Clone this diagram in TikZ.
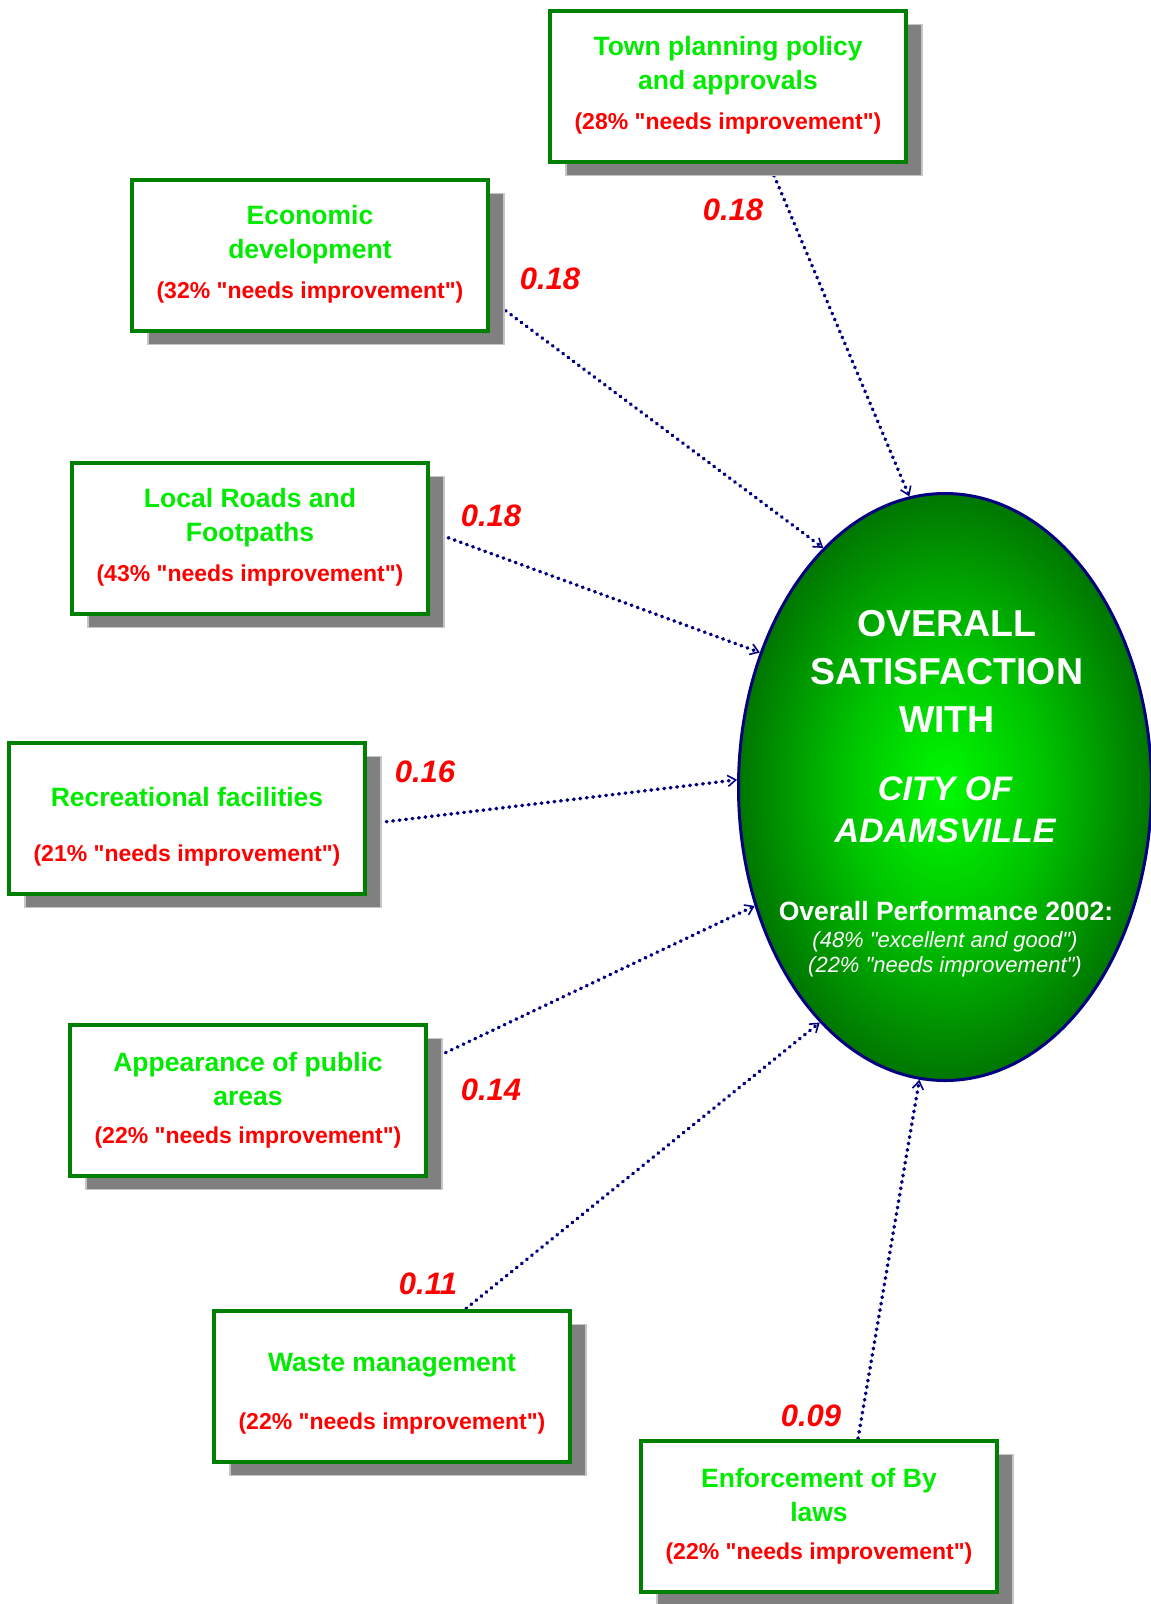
\documentclass[tikz,border=0pt]{standalone}
\usepackage{fontspec}
\setmainfont{Liberation Sans}[Ligatures=TeXOff]
\usetikzlibrary{shapes.geometric, arrows.meta, shadows, backgrounds}

\definecolor{boxgreen}{RGB}{0,128,0}
\definecolor{textgreen}{RGB}{0,235,0}
\definecolor{navy}{RGB}{0,0,128}
\definecolor{shadowgray}{RGB}{128,128,128}
\definecolor{glowlight}{RGB}{0,250,0}
\definecolor{glowmid}{RGB}{0,195,0}
\definecolor{glowdark}{RGB}{0,118,0}

\pgfdeclareradialshading{glow}{\pgfpoint{0bp}{0bp}}{color(0bp)=(glowlight); color(12bp)=(glowmid); color(25bp)=(glowdark); color(50bp)=(glowdark)}

% green title on top, red share underneath
\newcommand{\factor}[2]{%
  \parbox[c][151pt][t]{356pt}{\centering
    \vspace*{14pt}%
    \parbox[c][82pt][c]{350pt}{\centering\color{textgreen}\fontsize{26.5}{34}\selectfont\bfseries #1}\par
    \vspace*{5pt}%
    {\color{red}\fontsize{23}{28}\selectfont\bfseries #2}}}

\tikzset{
  factorbox/.style={draw=boxgreen, line width=4pt, fill=white, inner sep=0pt,
    minimum width=356pt, minimum height=151pt,
    general shadow={fill=shadowgray, draw=gray!45, line width=1.5pt,
      shadow xshift=16pt, shadow yshift=-14pt}},
  weight/.style={text=red, inner sep=0pt, font=\fontsize{31}{36}\selectfont\bfseries\itshape},
  link/.style={draw=navy, line width=3.6pt, line cap=round, dash pattern=on 0.6pt off 5.9pt,
    -{Straight Barb[length=8pt, width=11pt, line width=1.6pt]}},
}

\begin{document}
\begin{tikzpicture}[x=1pt, y=-1pt]
  \useasboundingbox (0,0) rectangle (1151,1604);

  % centre ellipse
  \node[ellipse, draw=navy, line width=3pt, shading=glow, inner sep=0pt,
        minimum width=413pt, minimum height=587pt] (sat) at (945,787) {};
  \node[text=white, align=center, inner sep=0pt, font=\fontsize{37.5}{48}\selectfont\bfseries]
    (sat-title) at (947,671) {OVERALL\\SATISFACTION\\WITH};
  \node[text=white, align=center, inner sep=0pt, font=\fontsize{34}{42}\selectfont\bfseries\itshape]
    (sat-city) at (945,810) {CITY OF\\ADAMSVILLE};
  \node[text=white, inner sep=0pt, font=\fontsize{26.5}{30}\selectfont\bfseries]
    (sat-perf) at (946,911) {Overall Performance 2002:};
  \node[text=white, align=center, inner sep=0pt, font=\fontsize{22}{25}\selectfont\itshape]
    (sat-note) at (945,954) {(48\% "excellent and good")\\(22\% "needs improvement")};

  % service areas
  \node[factorbox] (town) at (728,86) {\factor{Town planning policy\\and approvals}{(28\% "needs improvement")}};
  \node[factorbox] (econ) at (310,255) {\factor{Economic\\development}{(32\% "needs improvement")}};
  \node[factorbox] (roads) at (250,538) {\factor{Local Roads and\\Footpaths}{(43\% "needs improvement")}};
  \node[factorbox] (rec) at (187,818) {\factor{Recreational facilities}{(21\% "needs improvement")}};
  \node[factorbox] (appear) at (248,1100) {\factor{Appearance of public\\areas}{(22\% "needs improvement")}};
  \node[factorbox] (waste) at (392,1386) {\factor{Waste management}{(22\% "needs improvement")}};
  \node[factorbox] (bylaws) at (819,1516) {\factor{Enforcement of By\\laws}{(22\% "needs improvement")}};

  % weights
  \node[weight] (w-town) at (733,210) {0.18};
  \node[weight] (w-econ) at (550,279) {0.18};
  \node[weight] (w-roads) at (491,516) {0.18};
  \node[weight] (w-rec) at (425,772) {0.16};
  \node[weight] (w-appear) at (491,1090) {0.14};
  \node[weight] (w-waste) at (428,1284) {0.11};
  \node[weight] (w-bylaws) at (811,1416) {0.09};

  \begin{scope}[on background layer]
    \draw[link] ([xshift=41pt]town.south) -- (sat.97);
    \draw[link] ([yshift=-44pt]econ.east) -- (sat.117);
    \draw[link] ([yshift=7pt]roads.east) -- (sat.144);
    \draw[link] ([yshift=-6pt]rec.east) -- (sat.178);
    \draw[link] ([yshift=39pt]appear.east) -- (sat.212);
    \draw[link] ([xshift=74pt]waste.north) -- (sat.242);
    \draw[link] ([xshift=39pt]bylaws.north) -- (sat.265);
  \end{scope}
\end{tikzpicture}
\end{document}
